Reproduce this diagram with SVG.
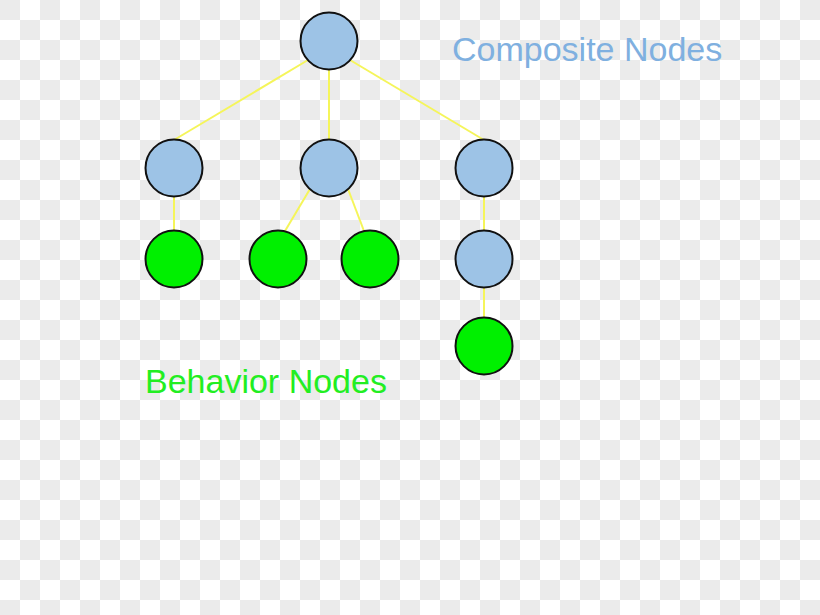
<svg xmlns="http://www.w3.org/2000/svg" width="820" height="615" viewBox="0 0 820 615">
<defs>
<pattern id="checker" x="0" y="0" width="40" height="40" patternUnits="userSpaceOnUse">
<rect width="40" height="40" fill="#ffffff"/>
<rect width="20" height="20" fill="#ebebeb"/>
<rect x="20" y="20" width="20" height="20" fill="#ebebeb"/>
</pattern>
</defs>
<style>
.comp{fill:#9dc3e6;stroke:#111;stroke-width:2}
.beh{fill:#00f000;stroke:#111;stroke-width:2}
.edge{stroke:#f5f55a;stroke-width:2;fill:none}
.lbl{font-family:"Liberation Sans",Arial,sans-serif;font-size:34px}
</style>
<rect width="820" height="615" fill="url(#checker)"/>
<g id="connectors">
<line class="edge" x1="308" y1="60" x2="174" y2="140"/>
<line class="edge" x1="329" y1="69" x2="329" y2="140"/>
<line class="edge" x1="350" y1="60" x2="484" y2="140"/>
<line class="edge" x1="174" y1="196" x2="174" y2="231"/>
<line class="edge" x1="310" y1="189" x2="285" y2="231"/>
<line class="edge" x1="348" y1="189" x2="364" y2="231"/>
<line class="edge" x1="484" y1="196" x2="484" y2="231"/>
<line class="edge" x1="484" y1="287" x2="484" y2="318"/>
</g>
<g id="root"><circle class="comp" cx="329" cy="41" r="28.5"/></g>
<g id="c1"><circle class="comp" cx="174" cy="168" r="28.5"/></g>
<g id="c2"><circle class="comp" cx="329" cy="168" r="28.5"/></g>
<g id="c3"><circle class="comp" cx="484" cy="168" r="28.5"/></g>
<g id="c4"><circle class="comp" cx="484" cy="259" r="28.5"/></g>
<g id="b1"><circle class="beh" cx="174" cy="259" r="28.5"/></g>
<g id="b2"><circle class="beh" cx="278" cy="259" r="28.5"/></g>
<g id="b3"><circle class="beh" cx="370" cy="259" r="28.5"/></g>
<g id="b4"><circle class="beh" cx="484" cy="346" r="28.5"/></g>
<g id="label-composite"><text class="lbl" x="452" y="61" fill="#7fb0e0">Composite Nodes</text></g>
<g id="label-behavior"><text class="lbl" x="145" y="393" fill="#22ee22">Behavior Nodes</text></g>
</svg>
